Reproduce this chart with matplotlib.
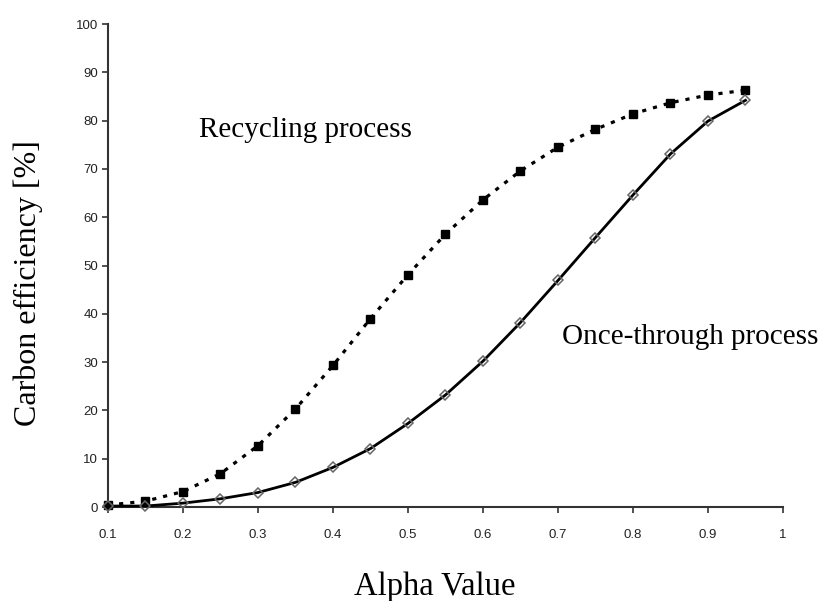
import matplotlib.pyplot as plt
import numpy as np

# datos
alpha = [0.1, 0.15, 0.2, 0.25, 0.3, 0.35, 0.4, 0.45, 0.5, 0.55,
         0.6, 0.65, 0.7, 0.75, 0.8, 0.85, 0.9, 0.95]
recycling = [0.4, 1.2, 3.2, 6.9, 12.7, 20.3, 29.3, 39.0, 48.1, 56.5,
             63.6, 69.6, 74.5, 78.2, 81.4, 83.7, 85.3, 86.3]
once_through = [0.2, 0.2, 0.8, 1.7, 3.0, 5.1, 8.2, 12.1, 17.3, 23.2,
                30.2, 38.2, 46.9, 55.8, 64.6, 73.1, 79.9, 84.2]
x_ticks = [0.1, 0.2, 0.3, 0.4, 0.5, 0.6, 0.7, 0.8, 0.9, 1.0]
x_labels = ['0.1', '0.2', '0.3', '0.4', '0.5', '0.6', '0.7', '0.8', '0.9', '1']
y_ticks = [0, 10, 20, 30, 40, 50, 60, 70, 80, 90, 100]

fig = plt.figure(figsize=(8.21, 6.01), dpi=100)
ax = fig.add_axes([0.1315, 0.1564, 0.8222, 0.8036])

# curva con reciclo (punteada, cuadros negros)
ax.plot(alpha, recycling, color='black', linewidth=2.3, linestyle=(0, (1.3, 2.2)),
        marker='s', markersize=6, markerfacecolor='black', markeredgecolor='black',
        clip_on=False, zorder=3)

# curva de un solo paso (continua, rombos abiertos)
ax.plot(alpha, once_through, color='black', linewidth=2.0, linestyle='-',
        marker='D', markersize=5, markerfacecolor='none', markeredgecolor='#666666',
        markeredgewidth=1.1, clip_on=False, zorder=4)

ax.set_xlim(0.1, 1.0)
ax.set_ylim(0, 100)
ax.set_xticks(x_ticks)
ax.set_xticklabels(x_labels)
ax.set_yticks(y_ticks)

for s in ['top', 'right']:
    ax.spines[s].set_visible(False)
for s in ['left', 'bottom']:
    ax.spines[s].set_color('#333333')
    ax.spines[s].set_linewidth(1.5)

ax.tick_params(direction='out', length=4, width=1.2, color='#333333',
               labelsize=9.5, labelcolor='#222222', pad=12)
for lab in ax.get_xticklabels() + ax.get_yticklabels():
    lab.set_family('Liberation Sans')
ax.tick_params(axis='y', pad=3)

ax.text(0.221, 78, 'Recycling process', fontsize=21, family='Liberation Serif',
        va='center', ha='left')
ax.text(0.705, 35.2, 'Once-through process', fontsize=21, family='Liberation Serif',
        va='center', ha='left', clip_on=False)

fig.text(0.034, 0.529, 'Carbon efficiency [%]', rotation=90, fontsize=23,
         family='Liberation Serif', va='center', ha='center')
fig.text(0.529, 0.024, 'Alpha Value', fontsize=23.5, family='Liberation Serif',
         va='center', ha='center')

fig.savefig('out.png', dpi=100)
